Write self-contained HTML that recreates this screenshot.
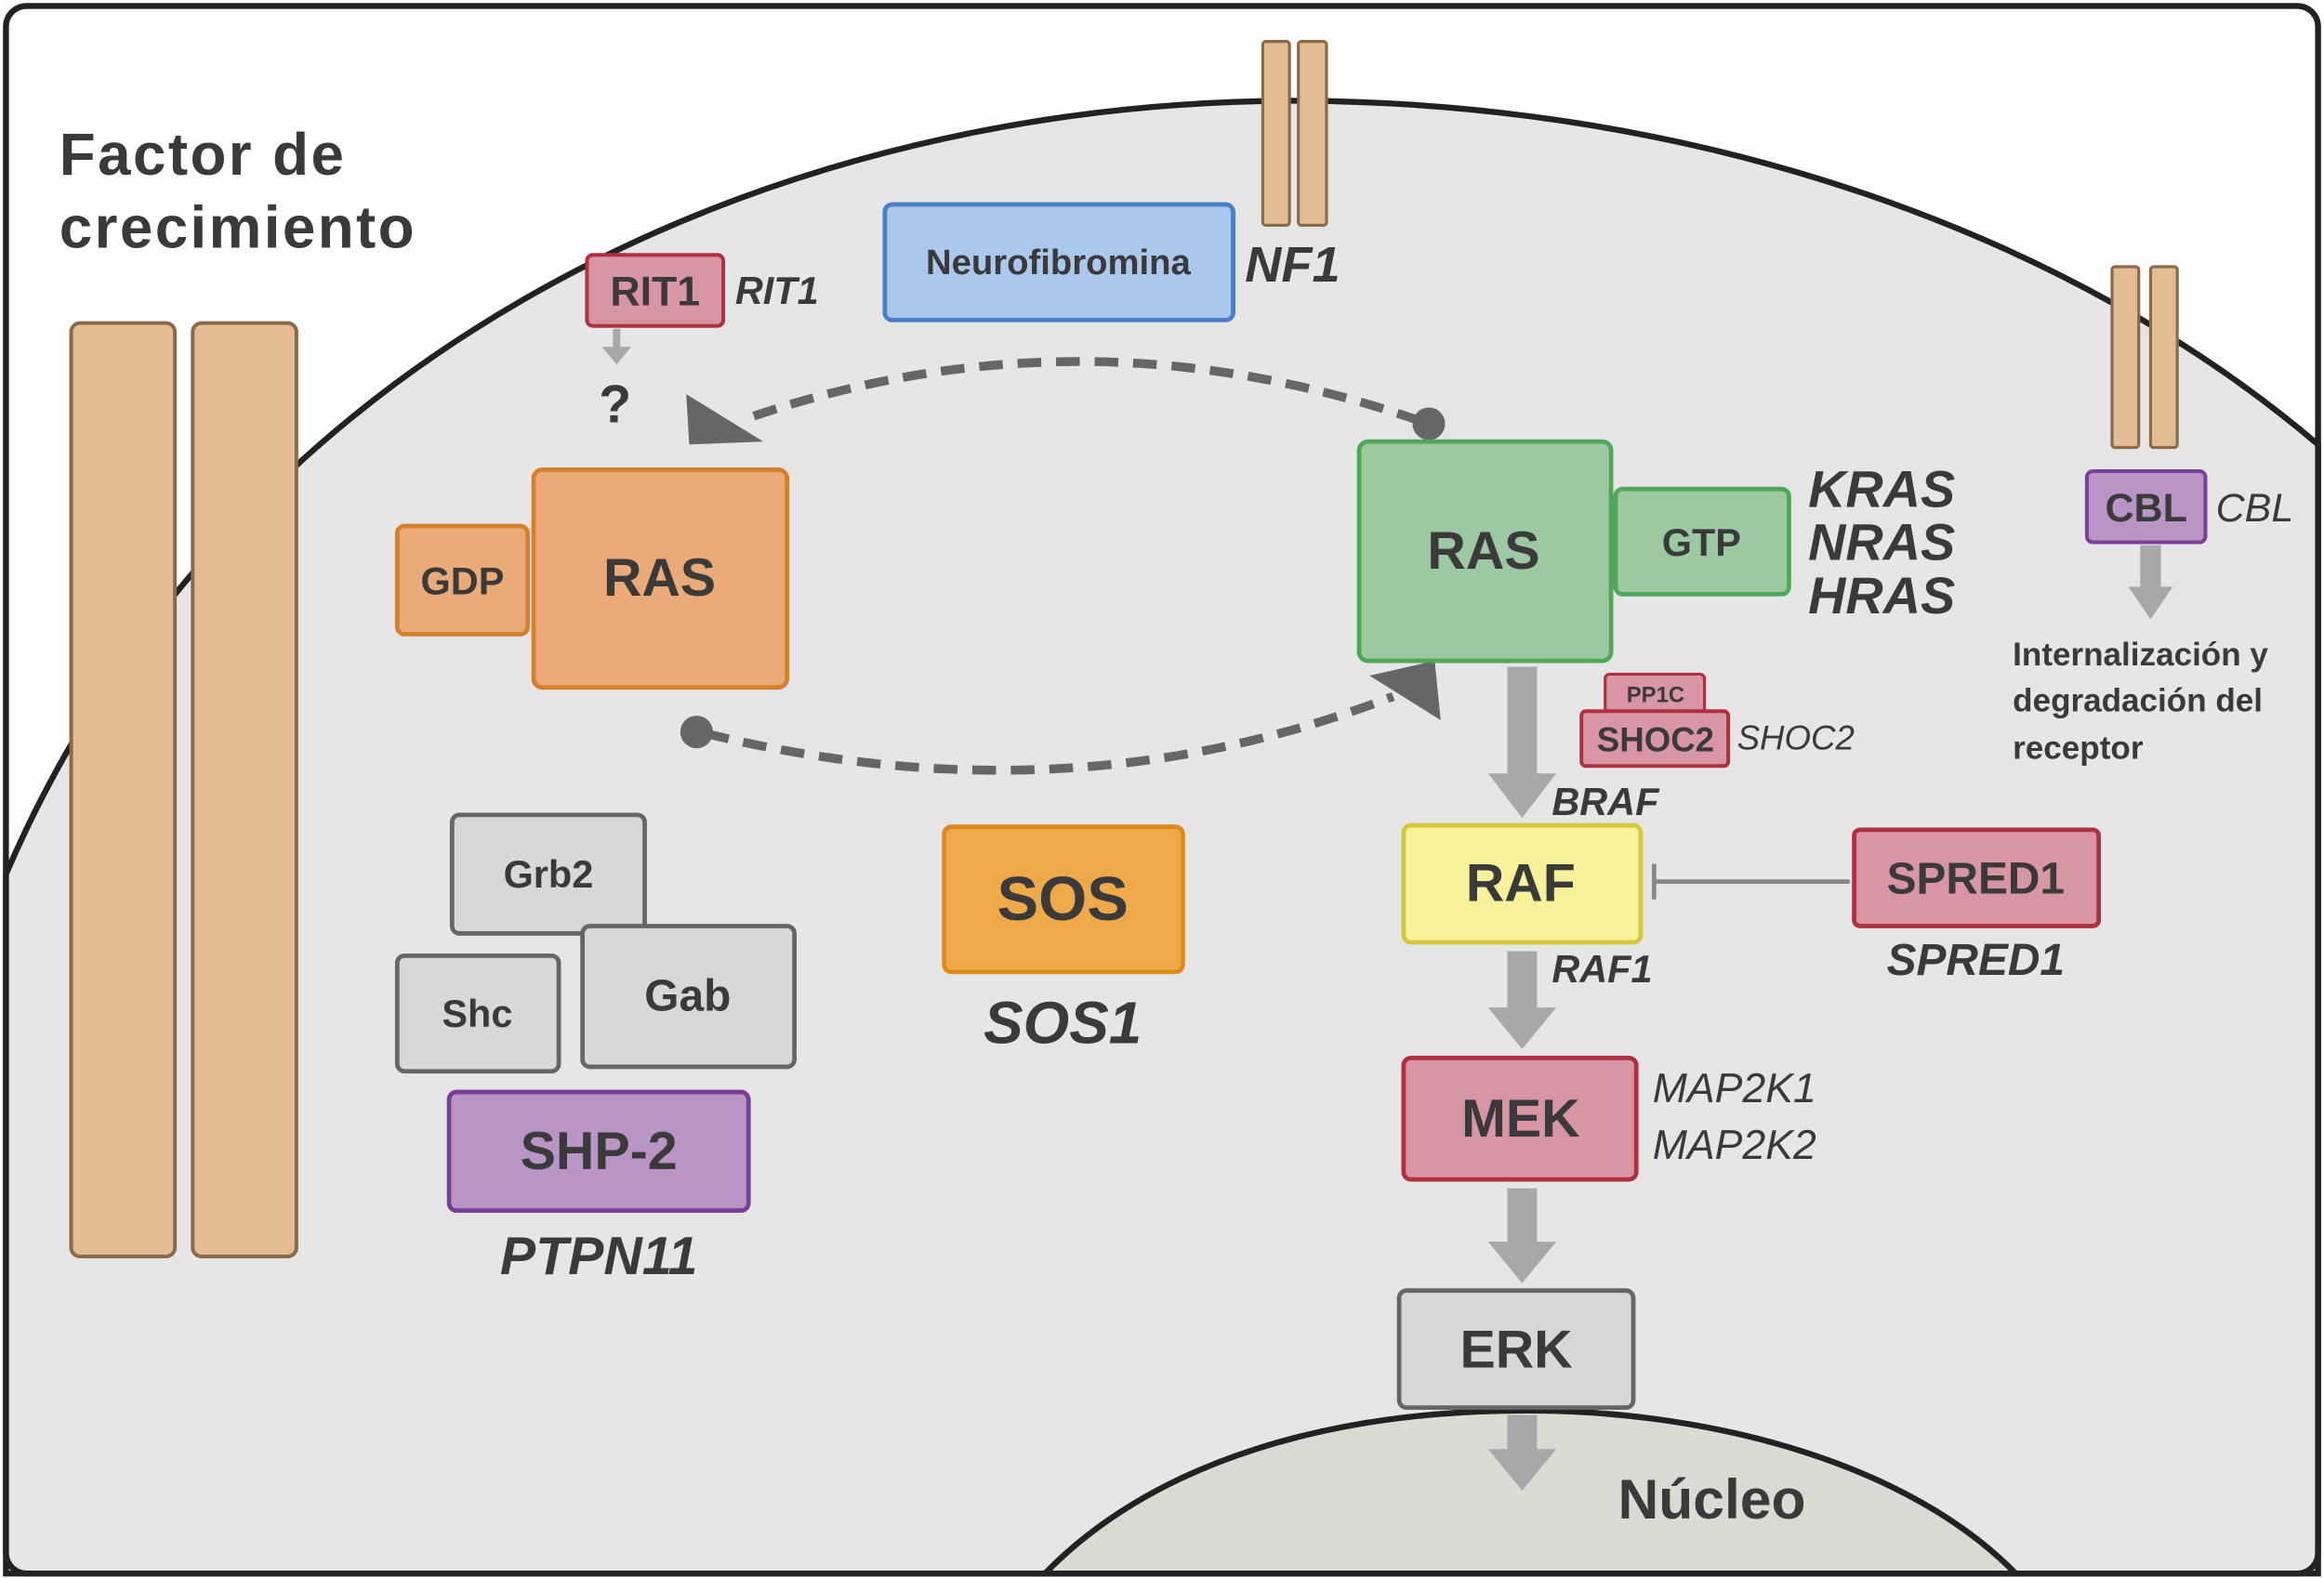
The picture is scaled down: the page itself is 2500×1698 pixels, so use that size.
<!DOCTYPE html>
<html><head><meta charset="utf-8"><style>
html,body{margin:0;padding:0;background:#fff;}
svg{display:block;}
text{font-family:"Liberation Sans","DejaVu Sans",sans-serif;fill:#3a3a3a;}
.b{font-weight:bold;}
.i{font-style:italic;font-weight:bold;}
</style></head><body>
<svg width="2500" height="1698" viewBox="0 0 1568 1065" xmlns="http://www.w3.org/2000/svg">
<rect x="0" y="0" width="1568" height="1065" fill="#fff"/>
<path d="M4,590 C 150,250 500,70 870,68 C 1150,68 1400,160 1564,300 L1564,1062 L4,1062 Z" fill="#e6e6e6" stroke="#222" stroke-width="4"/>
<path d="M705,1062 C 780,985 900,952 1030,952 C 1160,952 1290,990 1360,1062 Z" fill="#dcdbd3" stroke="#222" stroke-width="4"/>
<rect x="4" y="4" width="1560" height="1058" rx="14" fill="none" stroke="#222" stroke-width="4"/>

<text x="40" y="118" font-size="40" class="b" letter-spacing="1.5">Factor de</text>
<text x="40" y="167" font-size="40" class="b" letter-spacing="1.5">crecimiento</text>
<rect x="48" y="218" width="70" height="630" rx="6" fill="#e3bc94" stroke="#8a6a4a" stroke-width="2.5"/>
<rect x="130" y="218" width="70" height="630" rx="6" fill="#e3bc94" stroke="#8a6a4a" stroke-width="2.5"/>

<rect x="852" y="28" width="18" height="124" rx="2" fill="#e3bc94" stroke="#8a6a4a" stroke-width="2"/>
<rect x="876" y="28" width="19" height="124" rx="2" fill="#e3bc94" stroke="#8a6a4a" stroke-width="2"/>
<rect x="1425" y="180" width="18" height="122" rx="2" fill="#e3bc94" stroke="#8a6a4a" stroke-width="2"/>
<rect x="1451" y="180" width="18" height="122" rx="2" fill="#e3bc94" stroke="#8a6a4a" stroke-width="2"/>

<rect x="597" y="138" width="235" height="78" rx="5" fill="#a9c8ec" stroke="#4a7fc9" stroke-width="3"/>
<text x="714" y="185" font-size="24" text-anchor="middle" class="b">Neurofibromina</text>
<text x="840" y="190" font-size="34" class="i">NF1</text>

<rect x="396" y="172" width="92" height="48" rx="4" fill="#d896a4" stroke="#b0303e" stroke-width="2.5"/>
<text x="442" y="206" font-size="28" text-anchor="middle" class="b">RIT1</text>
<text x="496" y="205" font-size="26" class="i">RIT1</text>
<line x1="416" y1="222" x2="416" y2="236" stroke="#a8a8a8" stroke-width="5"/>
<polygon points="406,234 426,234 416,246" fill="#a8a8a8"/>
<text x="415" y="285" font-size="36" text-anchor="middle" class="b">?</text>

<path d="M958,284 Q 730,205 505,282" fill="none" stroke="#666" stroke-width="6" stroke-dasharray="16,10"/>
<polygon points="463,266 515,298 465,300" fill="#666"/>
<circle cx="964" cy="286" r="11" fill="#666"/>
<path d="M476,495 Q 720,555 940,470" fill="none" stroke="#666" stroke-width="6" stroke-dasharray="16,10"/>
<polygon points="924,456 968,446 972,486" fill="#666"/>
<circle cx="470" cy="494" r="11" fill="#666"/>

<rect x="268" y="355" width="88" height="73" rx="5" fill="#eaab78" stroke="#d6802c" stroke-width="3"/>
<text x="312" y="401" font-size="26" text-anchor="middle" class="b">GDP</text>
<rect x="360" y="317" width="171" height="147" rx="6" fill="#eaab78" stroke="#d6802c" stroke-width="3"/>
<text x="445" y="402" font-size="36" text-anchor="middle" class="b">RAS</text>

<rect x="1090" y="330" width="117" height="71" rx="5" fill="#9cc9a2" stroke="#4ea858" stroke-width="3"/>
<text x="1148" y="375" font-size="26" text-anchor="middle" class="b">GTP</text>
<rect x="917" y="298" width="170" height="148" rx="6" fill="#9cc9a2" stroke="#4ea858" stroke-width="3"/>
<text x="1001" y="384" font-size="36" text-anchor="middle" class="b">RAS</text>
<text x="1220" y="342" font-size="35" class="i">KRAS</text>
<text x="1220" y="378" font-size="35" class="i">NRAS</text>
<text x="1220" y="414" font-size="35" class="i">HRAS</text>

<rect x="637" y="558" width="161" height="98" rx="5" fill="#eeaa48" stroke="#e08a1a" stroke-width="3"/>
<text x="717" y="621" font-size="42" text-anchor="middle" class="b">SOS</text>
<text x="717" y="704" font-size="40" text-anchor="middle" class="i">SOS1</text>

<rect x="305" y="550" width="130" height="80" rx="5" fill="#d8d8d8" stroke="#666" stroke-width="3"/>
<text x="370" y="599" font-size="26" text-anchor="middle" class="b">Grb2</text>
<rect x="268" y="645" width="109" height="78" rx="5" fill="#d8d8d8" stroke="#666" stroke-width="3"/>
<text x="322" y="693" font-size="26" text-anchor="middle" class="b">Shc</text>
<rect x="393" y="625" width="143" height="95" rx="5" fill="#d8d8d8" stroke="#666" stroke-width="3"/>
<text x="464" y="682" font-size="30" text-anchor="middle" class="b">Gab</text>
<rect x="303" y="737" width="202" height="80" rx="5" fill="#b995c6" stroke="#7a3f98" stroke-width="3"/>
<text x="404" y="789" font-size="36" text-anchor="middle" class="b">SHP-2</text>
<text x="404" y="860" font-size="36" text-anchor="middle" class="i">PTPN11</text>

<g fill="#a8a8a8">
<rect x="1017" y="450" width="20" height="75"/><polygon points="1004,522 1050,522 1027,552"/>
<rect x="1017" y="642" width="20" height="40"/><polygon points="1004,680 1050,680 1027,708"/>
<rect x="1017" y="802" width="20" height="38"/><polygon points="1004,838 1050,838 1027,866"/>
<rect x="1017" y="955" width="20" height="25"/><polygon points="1004,978 1050,978 1027,1006"/>
</g>

<rect x="1083" y="455" width="67" height="26" rx="3" fill="#d896a4" stroke="#b0303e" stroke-width="2"/>
<text x="1117" y="474" font-size="15" text-anchor="middle" class="b">PP1C</text>
<rect x="1067" y="480" width="99" height="37" rx="3" fill="#d896a4" stroke="#b0303e" stroke-width="2.5"/>
<text x="1117" y="507" font-size="23" text-anchor="middle" class="b">SHOC2</text>
<text x="1172" y="506" font-size="23" class="i" style="font-weight:normal">SHOC2</text>
<text x="1047" y="550" font-size="26" class="i">BRAF</text>

<rect x="947" y="557" width="160" height="79" rx="5" fill="#f7f29a" stroke="#d4c73a" stroke-width="3"/>
<text x="1026" y="608" font-size="36" text-anchor="middle" class="b">RAF</text>
<text x="1047" y="663" font-size="26" class="i">RAF1</text>
<line x1="1116" y1="595" x2="1248" y2="595" stroke="#888" stroke-width="3"/>
<line x1="1116" y1="583" x2="1116" y2="607" stroke="#888" stroke-width="3"/>
<rect x="1251" y="560" width="165" height="65" rx="4" fill="#d896a4" stroke="#b0303e" stroke-width="3"/>
<text x="1333" y="603" font-size="30" text-anchor="middle" class="b">SPRED1</text>
<text x="1333" y="658" font-size="30" text-anchor="middle" class="i">SPRED1</text>

<rect x="947" y="714" width="157" height="82" rx="5" fill="#d896a4" stroke="#b0303e" stroke-width="3"/>
<text x="1026" y="767" font-size="36" text-anchor="middle" class="b">MEK</text>
<text x="1115" y="744" font-size="28" class="i" style="font-weight:normal">MAP2K1</text>
<text x="1115" y="782" font-size="28" class="i" style="font-weight:normal">MAP2K2</text>

<rect x="944" y="871" width="158" height="79" rx="5" fill="#d8d8d8" stroke="#666" stroke-width="3"/>
<text x="1023" y="923" font-size="36" text-anchor="middle" class="b">ERK</text>
<text x="1155" y="1025" font-size="38" text-anchor="middle" class="b">Núcleo</text>

<rect x="1408" y="318" width="80" height="48" rx="4" fill="#b995c6" stroke="#7a3f98" stroke-width="2.5"/>
<text x="1448" y="352" font-size="27" text-anchor="middle" class="b">CBL</text>
<text x="1495" y="352" font-size="27" class="i" style="font-weight:normal">CBL</text>
<rect x="1444" y="368" width="14" height="30" fill="#a8a8a8"/>
<polygon points="1436,396 1466,396 1451,418" fill="#a8a8a8"/>
<text x="1358" y="449" font-size="22" class="b">Internalización y</text>
<text x="1358" y="480" font-size="22" class="b">degradación del</text>
<text x="1358" y="512" font-size="22" class="b">receptor</text>
</svg>
</body></html>
